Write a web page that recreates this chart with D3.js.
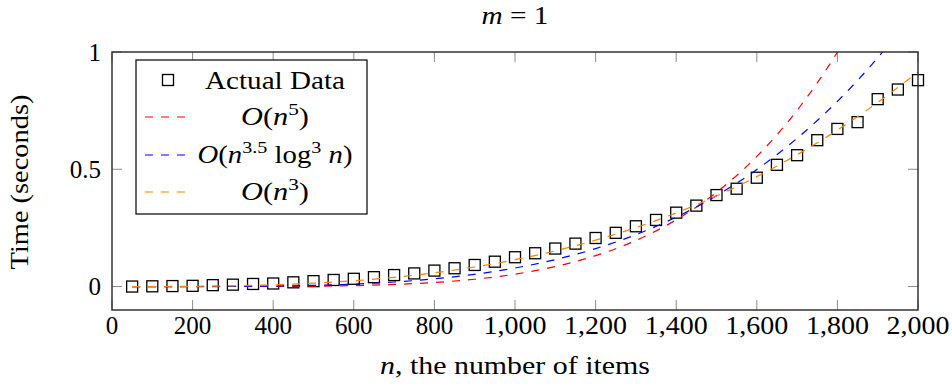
<!DOCTYPE html>
<html><head><meta charset="utf-8">
<script src="https://cdn.jsdelivr.net/npm/d3@7"></script>
<style>
body{margin:0;background:#fff;}
text{font-family:"Liberation Serif","Times New Roman",serif;fill:#000;}
</style></head>
<body><svg id="c" width="952" height="385"></svg>
<script>
// ---- data ----
const nValues = [50,100,150,200,250,300,350,400,450,500,550,600,650,700,750,800,850,900,950,1000,
  1050,1100,1150,1200,1250,1300,1350,1400,1450,1500,1550,1600,1650,1700,1750,1800,1850,1900,1950,2000];
const actualData = [0.000,0.001,0.002,0.003,0.006,0.008,0.011,0.013,0.018,0.023,
  0.028,0.033,0.040,0.049,0.056,0.068,0.078,0.092,0.106,0.125,
  0.142,0.162,0.183,0.207,0.229,0.257,0.284,0.315,0.345,0.390,
  0.417,0.464,0.519,0.560,0.624,0.672,0.701,0.799,0.840,0.880];
const curveN = [50,100,200,300,400,500,600,700,800,900,1000,1100,1200,1300,1400,1500,1600,1700,1800,1900,2000];
const fitN5 = [0,0,0.00002,0.00013,0.0005,0.0017,0.0041,0.0089,0.0173,0.0312,0.0529,0.0852,0.1316,0.1964,0.2845,0.4017,0.5547,0.7511,0.9996,1.3098,1.6928];
const fitN35Log = [0,0.00001,0.00013,0.00066,0.0021,0.0051,0.0105,0.0193,0.0328,0.0522,0.0790,0.1149,0.1617,0.2213,0.2959,0.3875,0.4988,0.6320,0.7898,0.9752,1.1908];
const fitN3 = [0.00001,0.00011,0.0009,0.0031,0.0073,0.0143,0.0247,0.0392,0.0586,0.0834,0.1144,0.1523,0.1977,0.2513,0.3139,0.3861,0.4686,0.5620,0.6672,0.7847,0.9152];
const xTicks = [0,200,400,600,800,1000,1200,1400,1600,1800,2000];
const yTicks = [0,0.5,1];

const svg = d3.select("#c");
const L=112,R=918,T=52,B=310;
const x = d3.scaleLinear().domain([0,2000]).range([L,R]);
const y = d3.scaleLinear().domain([-0.1,1]).range([B,T]);
const fs = 25, tickLen = 10;

// stretch a text horizontally (in its own frame) to a target width
function fitWidth(sel, target, pre){
  const node = sel.node();
  const bb = node.getBBox();
  if(!bb.width) return;
  const k = target/bb.width, cx = bb.x + bb.width/2;
  sel.attr("transform",(pre||"")+` translate(${cx},0) scale(${k},1) translate(${-cx},0)`);
}

svg.append("defs").append("clipPath").attr("id","clip").append("rect")
  .attr("x",L).attr("y",T).attr("width",R-L).attr("height",B-T);

// ticks (inward, all four sides)
const tk = svg.append("g").attr("stroke","#8a8a8a").attr("stroke-width",1);
xTicks.forEach(v=>{
  tk.append("line").attr("x1",x(v)).attr("x2",x(v)).attr("y1",B).attr("y2",B-tickLen);
  tk.append("line").attr("x1",x(v)).attr("x2",x(v)).attr("y1",T).attr("y2",T+tickLen);
});
yTicks.forEach(v=>{
  tk.append("line").attr("y1",y(v)).attr("y2",y(v)).attr("x1",L).attr("x2",L+tickLen);
  tk.append("line").attr("y1",y(v)).attr("y2",y(v)).attr("x1",R).attr("x2",R-tickLen);
});

// tick labels
const fmt = d3.format(",");
svg.append("g").selectAll("text").data(xTicks).join("text")
  .attr("x",d=>x(d)).attr("y",334).attr("text-anchor","middle")
  .attr("font-size",fs).text(d=>fmt(d))
  .each(function(d){ if(d>=1000) fitWidth(d3.select(this),63); });
svg.append("g").selectAll("text").data(yTicks).join("text")
  .attr("x",101).attr("y",d=>y(d)).attr("dy","0.35em").attr("text-anchor","end")
  .attr("font-size",fs).text(d=>d);

// data markers
svg.append("g").selectAll("rect").data(nValues).join("rect")
  .attr("x",(d)=>x(d)-5.5).attr("y",(d,i)=>y(actualData[i])-5.5)
  .attr("width",11).attr("height",11)
  .attr("fill","none").attr("stroke","#000").attr("stroke-width",1.3);

// fitted curves
const plot = svg.append("g").attr("clip-path","url(#clip)");
const series = [
  {vals:fitN5,color:"#ff0000"},
  {vals:fitN35Log,color:"#0000ff"},
  {vals:fitN3,color:"#ff8000"}
];
series.forEach(s=>{
  const line = d3.line().x((d,i)=>x(curveN[i])).y(d=>y(d)).curve(d3.curveMonotoneX);
  plot.append("path").attr("d",line(s.vals)).attr("fill","none")
    .attr("stroke",s.color).attr("stroke-width",1.2).attr("stroke-dasharray","8,8");
});

// axis box
svg.append("rect").attr("x",L).attr("y",T).attr("width",R-L).attr("height",B-T)
  .attr("fill","none").attr("stroke","#333").attr("stroke-width",1.5);

// legend
const lg = svg.append("g");
lg.append("rect").attr("x",136).attr("y",60).attr("width",231).attr("height",154)
  .attr("fill","#fff").attr("stroke","#000").attr("stroke-width",1.2);
const rows=[80,117,155,192];
lg.append("rect").attr("x",162.5).attr("y",rows[0]-5.5).attr("width",11).attr("height",11)
  .attr("fill","none").attr("stroke","#000").attr("stroke-width",1.3);
series.forEach((s,i)=>{
  lg.append("line").attr("x1",145).attr("x2",185).attr("y1",rows[i+1]).attr("y2",rows[i+1])
    .attr("stroke",s.color).attr("stroke-width",1.2).attr("stroke-dasharray","8,8");
});
const tx = 275;
fitWidth(lg.append("text").attr("x",tx).attr("y",rows[0]).attr("dy","0.35em").attr("text-anchor","middle")
  .attr("font-size",fs).text("Actual Data"), 140);
function mathText(yy, parts, w){
  const t = lg.append("text").attr("x",tx).attr("y",yy+8).attr("text-anchor","middle").attr("font-size",fs);
  parts.forEach(p=>{
    const ts = t.append("tspan").text(p.t);
    if(p.i) ts.attr("font-style","italic");
    if(p.sup) ts.attr("font-size",fs*0.7).attr("dy",-10);
    if(p.down) ts.attr("dy",10);
  });
  fitWidth(t,w);
}
mathText(rows[1],[{t:"O",i:1},{t:"("},{t:"n",i:1},{t:"5",sup:1},{t:")",down:1}],68);
mathText(rows[2],[{t:"O",i:1},{t:"("},{t:"n",i:1},{t:"3.5",sup:1},{t:" log",down:1},{t:"3",sup:1},{t:" ",down:1},{t:"n",i:1},{t:")"}],155);
mathText(rows[3],[{t:"O",i:1},{t:"("},{t:"n",i:1},{t:"3",sup:1},{t:")",down:1}],68);

// title
const ti = svg.append("text").attr("x",515).attr("y",24).attr("text-anchor","middle").attr("font-size",fs);
ti.append("tspan").attr("font-style","italic").text("m");
ti.append("tspan").text(" = 1");
fitWidth(ti,67);

// axis labels
const xl = svg.append("text").attr("x",515).attr("y",374).attr("text-anchor","middle").attr("font-size",fs);
xl.append("tspan").attr("font-style","italic").text("n");
xl.append("tspan").text(", the number of items");
fitWidth(xl,270);
const yl = svg.append("text").attr("x",0).attr("y",0).attr("text-anchor","middle")
  .attr("font-size",fs).text("Time (seconds)");
fitWidth(yl,175,"translate(28,182) rotate(-90)");
</script></body></html>
